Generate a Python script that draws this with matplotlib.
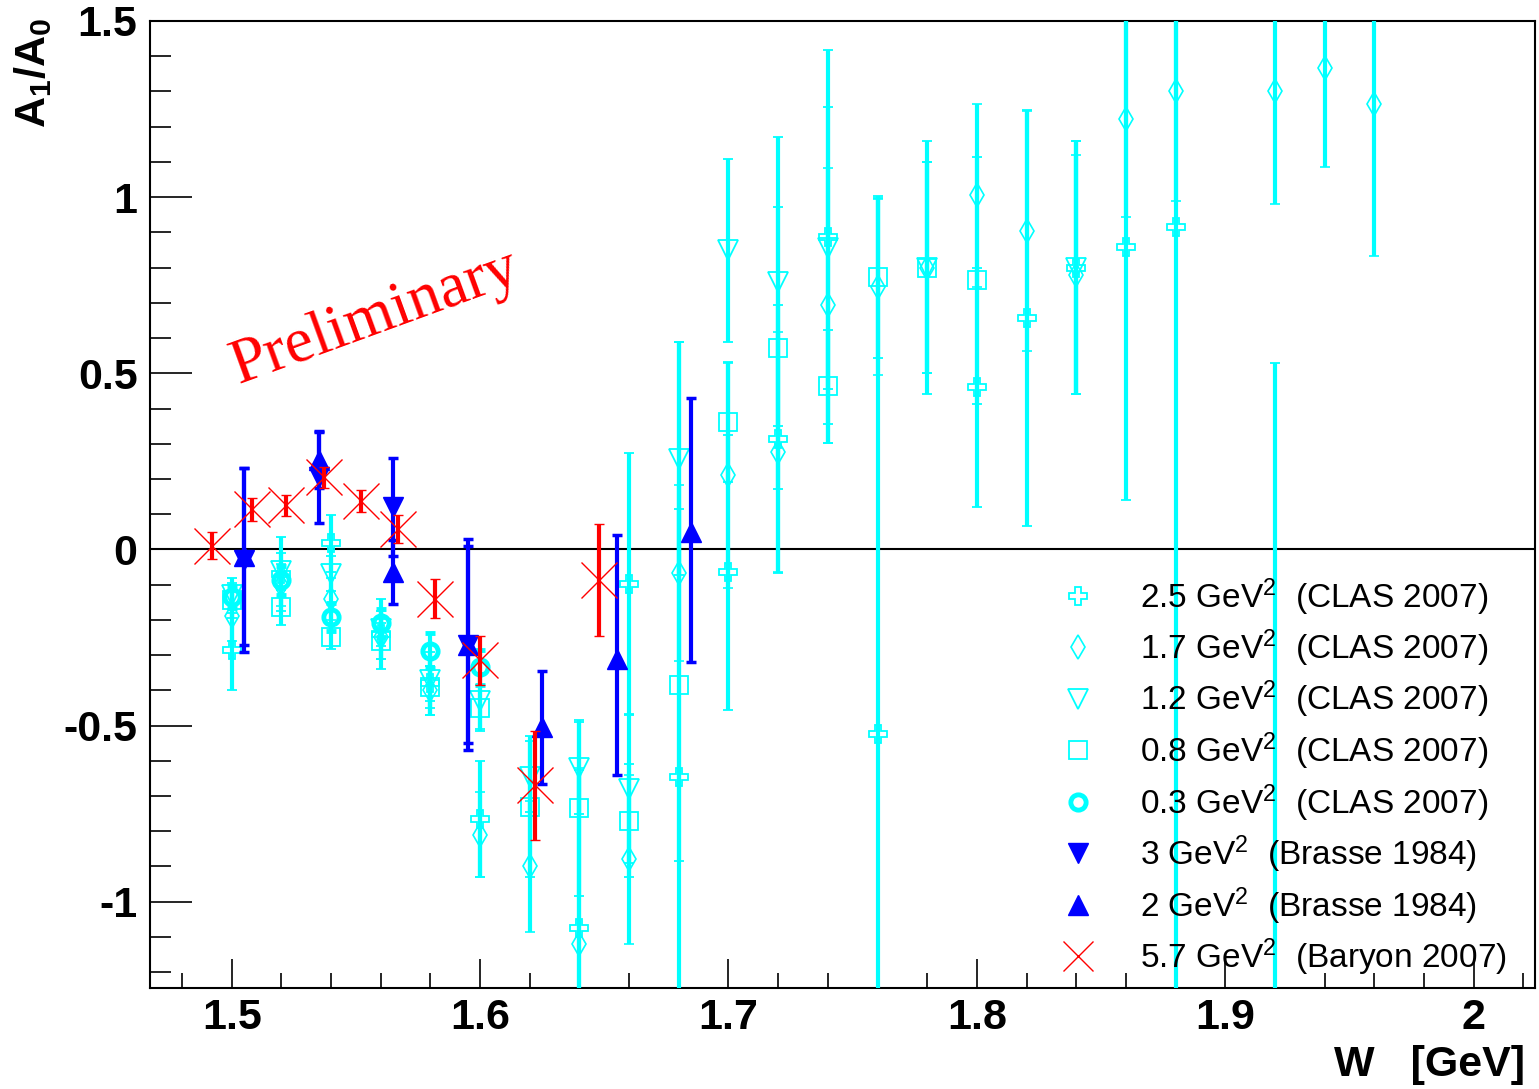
import matplotlib
matplotlib.use("Agg")
import matplotlib.pyplot as plt
from matplotlib.lines import Line2D
from matplotlib.ticker import MultipleLocator, FuncFormatter

plt.rcParams["font.family"] = ["Liberation Sans", "DejaVu Sans"]
plt.rcParams["mathtext.fontset"] = "custom"
plt.rcParams["mathtext.rm"] = "Liberation Sans"
plt.rcParams["mathtext.bf"] = "Liberation Sans:bold"
plt.rcParams["mathtext.it"] = "Liberation Sans:italic"
plt.rcParams["axes.unicode_minus"] = False

CYAN = "#00ffff"
BLUE = "#0000ff"
RED = "#ff0000"

# CLAS 2007, Q2 = 2.5 GeV^2 (open cross)
w_25 = [1.50, 1.52, 1.54, 1.56, 1.58, 1.60, 1.64, 1.66, 1.68, 1.70, 1.72, 1.74,
        1.76, 1.80, 1.82, 1.84, 1.86, 1.88, 1.92]
a_25 = [-0.285, -0.07, 0.017, -0.24, -0.38, -0.765, -1.075, -0.097, -0.645, -0.065,
        0.313, 0.887, -0.523, 0.46, 0.657, 0.80, 0.859, 0.915, -1.60]
e_25 = [0.115, 0.105, 0.08, 0.10, 0.09, 0.165, 0.45, 0.37, 1.235, 0.39,
        0.38, 0.53, 1.52, 0.34, 0.59, 0.36, 0.72, 2.2, 2.13]

# CLAS 2007, Q2 = 1.7 GeV^2 (open diamond)
w_17 = [1.50, 1.52, 1.54, 1.56, 1.58, 1.60, 1.62, 1.64, 1.66, 1.68, 1.70, 1.72,
        1.74, 1.76, 1.78, 1.80, 1.82, 1.84, 1.86, 1.88, 1.92, 1.94, 1.96]
a_17 = [-0.19, -0.10, -0.14, -0.25, -0.40, -0.81, -0.90, -1.12, -0.88, -0.066, 0.21, 0.277,
        0.693, 0.745, 0.80, 1.005, 0.904, 0.78, 1.223, 1.30, 1.30, 1.366, 1.263]
e_17 = [0.07, 0.06, 0.06, 0.06, 0.07, 0.12, 0.185, 0.50, 0.24, 0.25, 0.32, 0.34,
        0.39, 0.25, 0.30, 0.26, 0.34, 0.34, 0.28, 0.31, 0.32, 0.28, 0.43]

# CLAS 2007, Q2 = 1.2 GeV^2 (open triangle down)
w_12 = [1.50, 1.52, 1.54, 1.56, 1.58, 1.60, 1.62, 1.64, 1.66, 1.68, 1.70, 1.72,
        1.74, 1.78, 1.84]
a_12 = [-0.13, -0.06, -0.069, -0.225, -0.37, -0.43, -0.645, -0.62, -0.68, 0.258, 0.849, 0.76,
        0.855, 0.80, 0.80]
e_12 = [0.05, 0.05, 0.05, 0.05, 0.06, 0.08, 0.10, 0.13, 0.21, 0.33, 0.26, 0.41,
        0.40, 0.36, 0.36]

# CLAS 2007, Q2 = 0.8 GeV^2 (open square)
w_08 = [1.50, 1.52, 1.54, 1.56, 1.58, 1.60, 1.62, 1.64, 1.66, 1.68, 1.70, 1.72,
        1.74, 1.76, 1.78, 1.80]
a_08 = [-0.145, -0.164, -0.249, -0.26, -0.39, -0.45, -0.73, -0.735, -0.77, -0.385, 0.362, 0.572,
        0.463, 0.774, 0.80, 0.764]
e_08 = [0.05, 0.05, 0.035, 0.05, 0.06, 0.065, 0.20, 0.25, 0.16, 0.50, 0.17, 0.40,
        0.16, 0.23, 0.30, 0.35]

# CLAS 2007, Q2 = 0.3 GeV^2 (open circle)
w_03 = [1.50, 1.52, 1.54, 1.56, 1.58, 1.60]
a_03 = [-0.135, -0.088, -0.192, -0.21, -0.287, -0.335]
e_03 = [0.03, 0.04, 0.04, 0.04, 0.05, 0.05]

# Brasse 1984, Q2 = 3 GeV^2 (filled triangle down)
w_b3 = [1.505, 1.535, 1.565, 1.595]
a_b3 = [-0.03, 0.205, 0.12, -0.27]
e_b3 = [0.26, 0.13, 0.14, 0.30]

# Brasse 1984, Q2 = 2 GeV^2 (filled triangle up)
w_b2 = [1.505, 1.535, 1.565, 1.595, 1.625, 1.655, 1.685]
a_b2 = [-0.02, 0.253, -0.064, -0.27, -0.505, -0.31, 0.05]
e_b2_lo = [0.25, 0.08, 0.09, 0.28, 0.16, 0.33, 0.37]
e_b2_hi = [0.25, 0.08, 0.09, 0.28, 0.16, 0.35, 0.38]

# Baryon 2007, Q2 = 5.7 GeV^2 (x)
w_57 = [1.492, 1.508, 1.522, 1.537, 1.552, 1.567, 1.582, 1.600, 1.622, 1.648]
a_57 = [0.011, 0.114, 0.125, 0.205, 0.137, 0.059, -0.14, -0.315, -0.67, -0.087]
e_57 = [0.038, 0.033, 0.03, 0.03, 0.031, 0.04, 0.055, 0.07, 0.155, 0.16]

labels = [
    r"2.5 GeV$^{2}$  (CLAS 2007)",
    r"1.7 GeV$^{2}$  (CLAS 2007)",
    r"1.2 GeV$^{2}$  (CLAS 2007)",
    r"0.8 GeV$^{2}$  (CLAS 2007)",
    r"0.3 GeV$^{2}$  (CLAS 2007)",
    r"3 GeV$^{2}$  (Brasse 1984)",
    r"2 GeV$^{2}$  (Brasse 1984)",
    r"5.7 GeV$^{2}$  (Baryon 2007)",
]

fig = plt.figure(figsize=(15.39, 10.89), dpi=100)
ax = fig.add_axes([150 / 1539, 1 - 988 / 1089, 1385 / 1539, 967 / 1089])

ax.axhline(0, color="black", lw=1.5, zorder=1)

open_style = dict(ls="none", color=CYAN, mfc="none", mec=CYAN, elinewidth=3,
                  capsize=3.5, capthick=2.5, zorder=3)
ax.errorbar(w_25, a_25, yerr=e_25, fmt="P", ms=13, mew=1.3, **open_style)
ax.errorbar(w_17, a_17, yerr=e_17, fmt="d", ms=12, mew=1.2, **open_style)
ax.errorbar(w_12, a_12, yerr=e_12, fmt="v", ms=14, mew=1.3, **open_style)
ax.errorbar(w_08, a_08, yerr=e_08, fmt="s", ms=13, mew=1.3, **open_style)
ax.errorbar(w_03, a_03, yerr=e_03, fmt="o", ms=11, mew=3.5, **open_style)

filled_style = dict(ls="none", color=BLUE, elinewidth=3, capsize=3.5, capthick=2.5, zorder=4)
ax.errorbar(w_b3, a_b3, yerr=e_b3, fmt="v", ms=14, **filled_style)
ax.errorbar(w_b2, a_b2, yerr=[e_b2_lo, e_b2_hi], fmt="^", ms=14, **filled_style)

ax.errorbar(w_57, a_57, yerr=e_57, fmt="x", ms=26, mew=1.0, ls="none", color=RED,
            elinewidth=3, capsize=3.5, capthick=2.5, zorder=5)

ax.set_xlim(1.4671, 2.0247)
ax.set_ylim(-1.245, 1.5)

ax.xaxis.set_major_locator(MultipleLocator(0.1))
ax.xaxis.set_minor_locator(MultipleLocator(0.02))
ax.yaxis.set_major_locator(MultipleLocator(0.5))
ax.yaxis.set_minor_locator(MultipleLocator(0.1))
fmt = FuncFormatter(lambda v, p: "%g" % round(v, 3))
ax.xaxis.set_major_formatter(fmt)
ax.yaxis.set_major_formatter(fmt)

ax.tick_params(axis="y", which="major", direction="in", length=30, width=1.2, pad=9,
               labelsize=31)
ax.tick_params(axis="y", which="minor", direction="in", length=15, width=1.2)
ax.tick_params(axis="x", which="major", direction="in", length=21, width=1.2, pad=7,
               labelsize=31)
ax.tick_params(axis="x", which="minor", direction="in", length=10.5, width=1.2)
for lab in ax.get_xticklabels() + ax.get_yticklabels():
    lab.set_fontweight("bold")
for sp in ax.spines.values():
    sp.set_linewidth(1.5)

fig.text(1525 / 1539, 1 - 1065 / 1089, "W   [GeV]", ha="right", va="center",
         fontsize=31, fontweight="bold")
fig.text(33 / 1539, 1 - 18 / 1089, r"$\mathbf{A_{1}/A_{0}}$", ha="center", va="top",
         rotation=90, fontsize=31)

ax.text(1.5577, 0.656, "Preliminary", color=RED, fontsize=46, rotation=20,
        family="Liberation Serif", ha="center", va="center", rotation_mode="anchor")

handles = [
    Line2D([], [], ls="none", marker="P", ms=13, mfc="none", mec=CYAN, mew=1.3),
    Line2D([], [], ls="none", marker="d", ms=12, mfc="none", mec=CYAN, mew=1.2),
    Line2D([], [], ls="none", marker="v", ms=14, mfc="none", mec=CYAN, mew=1.3),
    Line2D([], [], ls="none", marker="s", ms=13, mfc="none", mec=CYAN, mew=1.3),
    Line2D([], [], ls="none", marker="o", ms=11, mfc="none", mec=CYAN, mew=3.5),
    Line2D([], [], ls="none", marker="v", ms=14, color=BLUE),
    Line2D([], [], ls="none", marker="^", ms=14, color=BLUE),
    Line2D([], [], ls="none", marker="x", ms=21, mew=1.0, color=RED),
]
fig.legend(handles, labels, loc="upper left", bbox_to_anchor=(1055 / 1539, 1 - 576 / 1089),
           frameon=False, fontsize=24, handlelength=1.4, handletextpad=1.16,
           borderpad=0, borderaxespad=0, labelspacing=0.3, numpoints=1)

fig.savefig("out.png", dpi=100)
